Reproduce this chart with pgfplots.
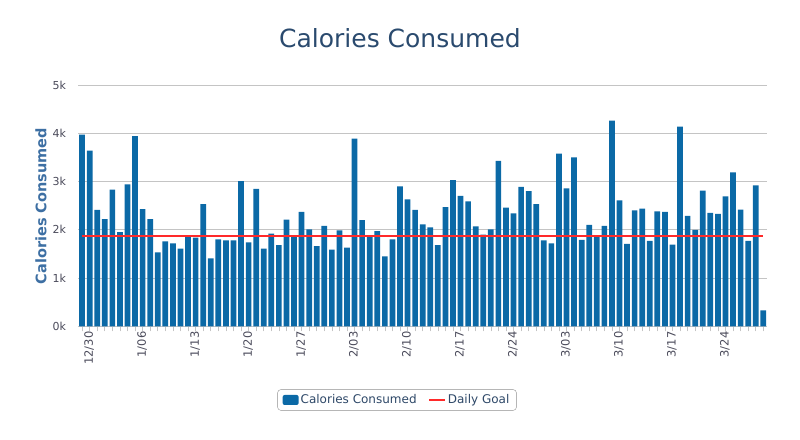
\documentclass[border=0pt]{standalone}
\usepackage{fontspec}
\setmainfont{DejaVu Sans}
\usepackage{pgfplots}
\pgfplotsset{compat=1.18}
\definecolor{barblue}{HTML}{0B69A6}
\definecolor{titlecol}{HTML}{2A4A6E}
\definecolor{ylabcol}{HTML}{3D6FA3}
\definecolor{tickcol}{HTML}{4A4A5A}
\definecolor{gridgray}{HTML}{C4C4C4}
\definecolor{goalred}{HTML}{FF2A2A}
\definecolor{legendgray}{HTML}{909090}
\definecolor{legendtext}{HTML}{2E4868}
\begin{document}
\begin{tikzpicture}[x=1pt,y=1pt]
\node[anchor=base, text=titlecol, font=\fontsize{25}{30}\selectfont] at (400,391) {Calories Consumed};
\node[rotate=90, text=ylabcol, font=\fontsize{14.5}{17}\selectfont\bfseries] at (41,233) {Calories Consumed};
\begin{axis}[
  at={(78.3pt,112.7pt)}, anchor=south west,
  scale only axis, width=688.8pt, height=241.3pt,
  xmin=-0.5, xmax=90.5, ymin=0, ymax=5000,
  axis line style={draw=none},
  ymajorgrids, grid style={line width=1pt, color=gridgray},
  ytick={0,1000,2000,3000,4000,5000},
  yticklabels={0k,1k,2k,3k,4k,5k},
  ytick style={draw=none},
  ytick pos=left, xtick pos=bottom,
  xtick={0,7,14,21,28,35,42,49,56,63,70,77,84},
  xticklabels={12/30,1/06,1/13,1/20,1/27,2/03,2/10,2/17,2/24,3/03,3/10,3/17,3/24},
  minor xtick={0,1,...,90},
  tick align=outside,
  major tick length=5pt, minor tick length=5pt,
  tick style={color=gridgray, line width=0.6pt},
  yticklabel style={anchor=east, inner sep=0pt, xshift=-7pt, text=tickcol, font=\fontsize{11}{13}\selectfont},
  xticklabel style={rotate=90, anchor=east, inner sep=0pt, yshift=-7pt, text=tickcol, font=\fontsize{11.5}{13}\selectfont},
  legend style={at={(axis description cs:0.4627,-0.3054)}, anchor=center, legend columns=2,
    draw=legendgray, rounded corners=3pt, font=\fontsize{12}{14}\selectfont, text=legendtext,
    inner xsep=5pt, inner ysep=3pt,
    /tikz/every even column/.append style={column sep=10pt}},
]
\addplot[ybar, bar width=5.7pt, fill=barblue, draw=none,
  legend image code/.code={\draw[fill=barblue,draw=none,rounded corners=2pt] (0pt,-5pt) rectangle (16pt,5pt);}]
coordinates {
(0,3970) (1,3640) (2,2410) (3,2220) (4,2830) (5,1950) (6,2940) (7,3940) (8,2430) (9,2220)
(10,1530) (11,1760) (12,1720) (13,1610) (14,1860) (15,1840) (16,2530) (17,1410) (18,1800) (19,1780)
(20,1780) (21,3010) (22,1740) (23,2850) (24,1610) (25,1920) (26,1680) (27,2210) (28,1860) (29,2370)
(30,2010) (31,1660) (32,2080) (33,1590) (34,1990) (35,1630) (36,3890) (37,2200) (38,1860) (39,1970)
(40,1450) (41,1800) (42,2900) (43,2630) (44,2410) (45,2110) (46,2050) (47,1680) (48,2470) (49,3030)
(50,2700) (51,2590) (52,2070) (53,1900) (54,2010) (55,3430) (56,2460) (57,2340) (58,2890) (59,2800)
(60,2530) (61,1780) (62,1720) (63,3580) (64,2860) (65,3500) (66,1790) (67,2100) (68,1880) (69,2080)
(70,4260) (71,2610) (72,1710) (73,2400) (74,2440) (75,1770) (76,2380) (77,2370) (78,1690) (79,4140)
(80,2290) (81,2000) (82,2810) (83,2350) (84,2330) (85,2690) (86,3190) (87,2420) (88,1770) (89,2920)
(90,330)
};
\addlegendentry{Calories Consumed}
\addplot[draw=goalred, color=goalred, line width=1.5pt, mark=none,
  legend image code/.code={\draw[draw=goalred,line width=1.2pt] (0pt,0pt) -- (16pt,0pt);}]
coordinates {(0,1875) (90,1875)};
\addlegendentry{Daily Goal}
\end{axis}
\pgfresetboundingbox
\useasboundingbox (0,0) rectangle (800,439);
\end{tikzpicture}
\end{document}
